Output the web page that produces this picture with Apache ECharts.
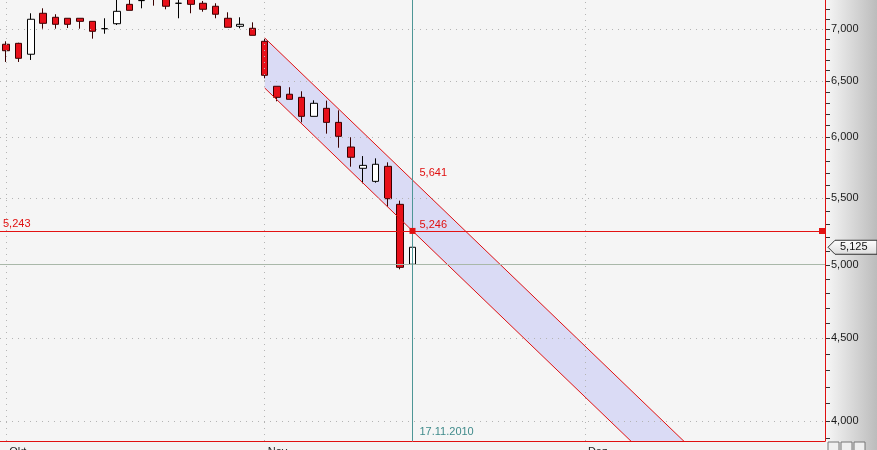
<!DOCTYPE html>
<html><head><meta charset="utf-8">
<script src="https://cdn.jsdelivr.net/npm/echarts@6/dist/echarts.min.js"></script>
<style>
html,body{margin:0;padding:0;}
body{background:linear-gradient(to right,#f3f3f3 0,#f3f3f3 826px,#f6f6f6 826px,#bcbcbc 877px);}
#c{width:877px;height:450px;}
</style>
</head><body><div id="c"></div>
<script>
// ---- data ----
const dates = [
 '01.10.2010','04.10.2010','05.10.2010','06.10.2010','07.10.2010','08.10.2010',
 '11.10.2010','12.10.2010','13.10.2010','14.10.2010','15.10.2010',
 '18.10.2010','19.10.2010','20.10.2010','21.10.2010','22.10.2010',
 '25.10.2010','26.10.2010','27.10.2010','28.10.2010','29.10.2010',
 '01.11.2010','02.11.2010','03.11.2010','04.11.2010','05.11.2010',
 '08.11.2010','09.11.2010','10.11.2010','11.11.2010','12.11.2010',
 '15.11.2010','16.11.2010','17.11.2010',
 '18.11.2010','19.11.2010','20.11.2010','21.11.2010','22.11.2010','23.11.2010','24.11.2010',
 '25.11.2010','26.11.2010','27.11.2010','28.11.2010','29.11.2010','30.11.2010',
 '01.12.2010','02.12.2010','03.12.2010','04.12.2010','05.12.2010','06.12.2010','07.12.2010',
 '08.12.2010','09.12.2010','10.12.2010','11.12.2010','12.12.2010','13.12.2010','14.12.2010',
 '15.12.2010','16.12.2010','17.12.2010','18.12.2010','19.12.2010','20.12.2010'
];
const opens  = [6849,6858,6752,7159,7118,7108,7108,7077,7003,7053,7251,7290,7345,7330,7262,7320,7262,7231,7108,7027,7007,
                6878,6450,6377,6349,6179,6250,6126,5914,5737,5631,5753,5449,5002];
const closes = [6786,6713,7098,7057,7047,7047,7077,6977,7003,7179,7189,7290,7330,7231,7262,7251,7200,7149,7017,7047,6937,
                6552,6349,6331,6179,6295,6126,6005,5828,5761,5770,5493,4980,5125];
const lows   = [6678,6678,6697,7003,7003,7010,7003,6904,6953,7040,7189,7210,7237,7200,7108,7159,7175,7108,7017,7007,6937,
                6524,6313,6331,6126,6179,6028,5908,5750,5615,5620,5431,4966,4943];
const highs  = [6878,6864,7159,7210,7149,7108,7108,7077,7108,7317,7327,7350,7370,7360,7320,7340,7286,7262,7169,7118,7067,
                6908,6450,6441,6404,6322,6319,6232,5997,5838,5819,5786,5478,5178];
const priceTicks = [4000,4500,5000,5500,6000,6500,7000];
const minorTicks = [3900,4000,4100,4200,4300,4400,4500,4600,4700,4800,4900,5000,5100,5200,5300,5400,5500,
                    5600,5700,5800,5900,6000,6100,6200,6300,6400,6500,6600,6700,6800,6900,7000,7100,7200];
const monthStarts = ['01.10.2010','01.11.2010','01.12.2010'];
const monthNames  = ['Okt','Nov','Dez'];
const channelDates = ['01.11.2010','17.11.2010','12.12.2010'];
const channelUpper = [6911,5641,3695];
const channelLower = [6434,5246,3436];
const levelLine = 5243;
const baseLine = 5000;
const lastClose = 5125;
const cursorDate = '17.11.2010';
const cursorUpper = 5641, cursorLower = 5246;

// ---- chart ----
const FONT = 'Liberation Sans';
const RED = '#e01010';
const fmt = v => Number(v).toLocaleString('en-US');
const chart = echarts.init(document.getElementById('c'), null, {renderer:'canvas'});
const candleData = opens.map((o,i)=>[o, closes[i], lows[i], highs[i]]);
const gridLevels = priceTicks.filter(v=>v!==baseLine);

chart.setOption({
  animation:false,
  grid:{left:0,right:52,top:0,bottom:9,containLabel:false,outerBoundsMode:'none',
        show:true,backgroundColor:'#f5f5f5',borderWidth:0},
  xAxis:{
    type:'category', data:dates, boundaryGap:true,
    axisLine:{lineStyle:{color:RED,width:1}},
    axisTick:{alignWithLabel:true,length:6,lineStyle:{color:'#222'},
      interval:(i,v)=>monthStarts.includes(v)},
    axisLabel:{interval:(i,v)=>monthStarts.includes(v), formatter:v=>monthNames[monthStarts.indexOf(v)],
      align:'left', margin:5, color:'#222', fontFamily:FONT, fontSize:11, padding:[0,0,0,3]},
    splitLine:{show:false}
  },
  yAxis:{
    type:'log', logBase:10, position:'right', min:3886, max:7296,
    axisLine:{show:true,lineStyle:{color:RED,width:1}},
    axisTick:{show:false},
    axisLabel:{customValues:priceTicks, formatter:fmt, margin:6, color:'#1a1a1a', fontFamily:FONT, fontSize:11},
    splitLine:{show:false}, minorTick:{show:false}, minorSplitLine:{show:false}
  },
  series:[
    {
      type:'custom', z:1, clip:true, silent:true,
      renderItem:(params, api)=>{
        const pts=[];
        for(let i=0;i<channelDates.length;i++) pts.push(api.coord([dates.indexOf(channelDates[i]), channelUpper[i]]));
        for(let i=channelDates.length-1;i>=0;i--) pts.push(api.coord([dates.indexOf(channelDates[i]), channelLower[i]]));
        return {type:'polygon', shape:{points:pts}, style:{fill:'#dadbf5'}};
      },
      data:[[dates.indexOf(channelDates[0]), channelUpper[0]]]
    },
    {
      type:'line', z:2, symbol:'none', silent:true, clip:true,
      data:channelDates.map((d,i)=>[d, channelUpper[i]]),
      lineStyle:{color:RED,width:1},
      markLine:{
        silent:true, symbol:'none', animation:false,
        label:{show:false},
        data:[
          ...gridLevels.map(v=>({yAxis:v, lineStyle:{color:'#b4b4b4',type:[1,5],width:1}})),
          {yAxis:baseLine, lineStyle:{color:'#a9b8a9',type:'solid',width:1}},
          ...monthStarts.map(d=>({xAxis:d, lineStyle:{color:'#b4b4b4',type:[1,5],width:1}}))
        ]
      }
    },
    {
      type:'line', z:4, symbol:'none', silent:true, clip:true,
      data:channelDates.map((d,i)=>[d, channelLower[i]]),
      lineStyle:{color:RED,width:1}
    },
    {
      type:'candlestick', z:3, barWidth:7, silent:true,
      data:candleData,
      itemStyle:{color:'#ffffff', color0:'#e8101a', borderColor:'#000000', borderColor0:'#3a0000', borderWidth:1},
      markLine:{
        silent:true, animation:false, symbol:['none','none'],
        lineStyle:{color:'#4e9696',type:'solid',width:1},
        label:{show:false},
        data:[ {xAxis:cursorDate} ]
      },
      markPoint:{
        silent:true, animation:false,
        data:[
          {coord:[cursorDate, cursorUpper], symbol:'rect', symbolSize:0,
           label:{show:true, position:'right', offset:[2,-7], formatter:fmt(cursorUpper), color:RED, fontFamily:FONT, fontSize:11}},
          {coord:[cursorDate, cursorLower], symbol:'rect', symbolSize:6, itemStyle:{color:RED},
           label:{show:true, position:'right', offset:[-1,-6], formatter:fmt(cursorLower), color:RED, fontFamily:FONT, fontSize:11}},
          {coord:[cursorDate, 3936], symbol:'rect', symbolSize:0,
           label:{show:true, position:'right', offset:[2,0], formatter:cursorDate, color:'#3f8a8a', fontFamily:FONT, fontSize:11}}
        ]
      }
    }
  ]
});

// level line, price tag and axis tick dashes placed through the axis scale
const toY = v => chart.convertToPixel({yAxisIndex:0}, v);
const ly = Math.round(toY(levelLine)) + 0.5;
const py = toY(lastClose);
const tickEls = minorTicks.map(v=>{
  const y = Math.round(toY(v)) + 0.5;
  return {type:'line', z:50, shape:{x1:826, y1:y, x2:830, y2:y}, style:{stroke:'#333', lineWidth:1}};
});
chart.setOption({
  graphic:[
    ...tickEls,
    {type:'line', z:60, silent:true, shape:{x1:0, y1:ly, x2:825, y2:ly}, style:{stroke:'#e31212', lineWidth:1}},
    {type:'rect', z:61, silent:true, shape:{x:819, y:ly-3.5, width:6, height:6}, style:{fill:'#e31212'}},
    {type:'text', z:61, silent:true, x:3, y:ly-2, style:{text:fmt(levelLine), fill:RED, font:'11px '+FONT, verticalAlign:'bottom'}},
    {type:'polygon', z:100, shape:{points:[[828,py],[835,py-7],[877,py-7],[877,py+7],[835,py+7]]},
     style:{fill:{type:'linear',x:0,y:0,x2:0,y2:1,colorStops:[{offset:0,color:'#ffffff'},{offset:1,color:'#dcdcdc'}]}, stroke:'#333', lineWidth:1}},
    {type:'text', z:101, x:840, y:py, style:{text:fmt(lastClose), fill:'#111', font:'11px '+FONT, verticalAlign:'middle'}},
    {type:'rect', z:100, shape:{x:828,y:442,width:11,height:10}, style:{fill:'#efefef',stroke:'#777'}},
    {type:'rect', z:100, shape:{x:841,y:442,width:11,height:10}, style:{fill:'#efefef',stroke:'#777'}},
    {type:'rect', z:100, shape:{x:854,y:442,width:11,height:10}, style:{fill:'#efefef',stroke:'#777'}}
  ]
});
</script>
</body></html>
